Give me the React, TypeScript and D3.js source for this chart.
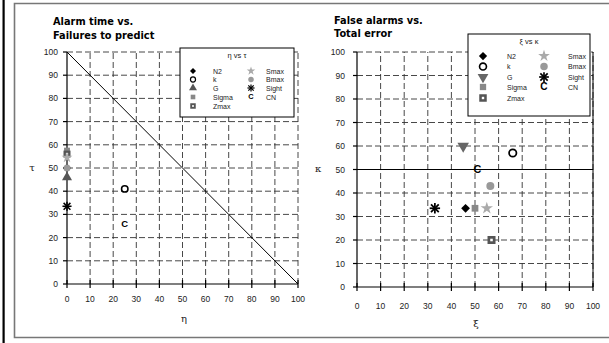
import React from 'react';
import * as d3 from 'd3';

// series order (drawing + legend)
const seriesNames = ['N2', 'k', 'G', 'Sigma', 'Zmax', 'Smax', 'Bmax', 'Sight', 'CN'];
const legendLeft = ['N2', 'k', 'G', 'Sigma', 'Zmax'];
const legendRight = ['Smax', 'Bmax', 'Sight', 'CN'];

// panel 1: eta vs tau
const etaVals = [0, 25, 0, 0, 0, 0, 0, 0, 25];
const tauVals = [50, 41, 46, 57.5, 56, 54.5, 50, 33.5, 26];

// panel 2: xi vs kappa
const xiVals = [46, 66, 45, 50, 57, 55, 56.5, 33, 51];
const kappaVals = [33.5, 57, 60, 33.5, 20, 33.5, 43, 33.5, 50];

const ticks = [0, 10, 20, 30, 40, 50, 60, 70, 80, 90, 100];

const FONT = '"Liberation Sans", Arial, sans-serif';
const TITLE_FONT = '"DejaVu Sans", Verdana, sans-serif';

function Marker({ name, x, y, s, down }: { name: string; x: number; y: number; s: number; down?: boolean }) {
  const sym = (type: any, size: number) => d3.symbol().type(type).size(size)() as string;
  switch (name) {
    case 'N2': {
      const h = s * 0.55;
      return <path d={`M${x},${y - h}L${x + h},${y}L${x},${y + h}L${x - h},${y}Z`} fill="#000" />;
    }
    case 'k':
      return <circle cx={x} cy={y} r={s * 0.46} fill="#fff" stroke="#000" strokeWidth={s * 0.22} />;
    case 'G':
      return (
        <path
          transform={`translate(${x},${y}) rotate(${down ? 180 : 0})`}
          d={sym(d3.symbolTriangle, s * s * 0.9)}
          fill={down ? '#666' : '#555'}
        />
      );
    case 'Sigma':
      return <rect x={x - s * 0.42} y={y - s * 0.42} width={s * 0.84} height={s * 0.84} fill="#888" />;
    case 'Zmax':
      return (
        <g>
          <rect x={x - s * 0.5} y={y - s * 0.5} width={s} height={s} fill="#555" />
          <rect x={x - s * 0.16} y={y - s * 0.16} width={s * 0.32} height={s * 0.32} fill="#fff" />
        </g>
      );
    case 'Smax':
      return <path transform={`translate(${x},${y})`} d={sym(d3.symbolStar, s * s * 0.75)} fill="#aaa" />;
    case 'Bmax':
      return <circle cx={x} cy={y} r={s * 0.5} fill="#999" />;
    case 'Sight': {
      const r = s * 0.65;
      const d = r * 0.75;
      return (
        <g stroke="#000" strokeWidth={s * 0.22}>
          <line x1={x - r} y1={y} x2={x + r} y2={y} />
          <line x1={x} y1={y - r} x2={x} y2={y + r} />
          <line x1={x - d} y1={y - d} x2={x + d} y2={y + d} />
          <line x1={x - d} y1={y + d} x2={x + d} y2={y - d} />
        </g>
      );
    }
    case 'CN':
      return (
        <text x={x} y={y + s * 0.45} textAnchor="middle" fontFamily={FONT} fontWeight="bold" fontSize={s * 1.35} fill="#000">
          C
        </text>
      );
    default:
      return null;
  }
}

type PanelProps = {
  xr: [number, number];
  yr: [number, number];
  xs: number[];
  ys: number[];
  title: string[];
  titleX: number;
  titleY: [number, number];
  legend: { x: number; y: number; w: number; h: number; title: string; rows: number[]; c1: number; l1: number; c2: number; l2: number; ms: number; fs: number };
  xLabel: string;
  yLabel: string;
  xLabelPos: [number, number];
  yLabelPos: [number, number];
  xTickY: number;
  yTickX: number;
  ms: number;
  diag?: boolean;
  right?: boolean;
};

function Panel(p: PanelProps) {
  const x = d3.scaleLinear().domain([0, 100]).range(p.xr);
  const y = d3.scaleLinear().domain([0, 100]).range(p.yr);
  const grid = '#333';
  return (
    <g>
      <text fontFamily={TITLE_FONT} fontWeight="bold" fontSize={9.8} fill="#000">
        <tspan x={p.titleX} y={p.titleY[0]}>{p.title[0]}</tspan>
        <tspan x={p.titleX} y={p.titleY[1]}>{p.title[1]}</tspan>
      </text>
      {/* dashed grid */}
      {ticks.slice(1).map(t => (
        <line key={'h' + t} x1={x(0)} x2={x(100)} y1={y(t)} y2={y(t)} stroke={grid} strokeDasharray="6,3" strokeWidth={0.9} />
      ))}
      {ticks.slice(1).map(t => (
        <line key={'v' + t} x1={x(t)} x2={x(t)} y1={y(0)} y2={y(100)} stroke={grid} strokeDasharray="6,3" strokeWidth={0.9} />
      ))}
      {p.right && (
        <g stroke="#000" strokeWidth={1}>
          <line x1={x(0)} x2={x(100)} y1={y(50)} y2={y(50)} />
          <line x1={x(100)} x2={x(100)} y1={y(0)} y2={y(100)} />
        </g>
      )}
      {/* axes */}
      <line x1={x(0)} x2={x(0)} y1={y(0)} y2={y(100)} stroke="#000" strokeWidth={1.2} />
      <line x1={x(0)} x2={x(100)} y1={y(0)} y2={y(0)} stroke="#000" strokeWidth={1.2} />
      {ticks.map(t => (
        <g key={'t' + t}>
          <line x1={x(t)} x2={x(t)} y1={y(0) - 4} y2={y(0) + 4} stroke="#000" strokeWidth={1.2} />
          <line x1={x(0) - 4} x2={x(0)} y1={y(t)} y2={y(t)} stroke="#000" strokeWidth={1.2} />
          <text x={x(t)} y={p.xTickY} textAnchor="middle" fontFamily={FONT} fontSize={8.5} fill="#222">{t}</text>
          <text x={p.yTickX} y={y(t) + 3} textAnchor="end" fontFamily={FONT} fontSize={8.5} fill="#222">{t}</text>
        </g>
      ))}
      {p.diag && <line x1={x(0)} y1={y(100)} x2={x(100)} y2={y(0)} stroke="#000" strokeWidth={1} />}
      <text x={p.xLabelPos[0]} y={p.xLabelPos[1]} textAnchor="middle" fontFamily="'DejaVu Serif', serif" fontSize={10} fill="#222">{p.xLabel}</text>
      <text x={p.yLabelPos[0]} y={p.yLabelPos[1]} textAnchor="middle" fontFamily="'DejaVu Serif', serif" fontSize={10} fill="#222">{p.yLabel}</text>
      {/* legend */}
      <rect x={p.legend.x} y={p.legend.y} width={p.legend.w} height={p.legend.h} fill="#fff" stroke="#000" strokeWidth={1} />
      <text x={p.legend.x + p.legend.w / 2} y={p.legend.y + 10} textAnchor="middle" fontFamily={FONT} fontSize={7.5} fill="#222">{p.legend.title}</text>
      {legendLeft.map((n, i) => (
        <g key={'ll' + n}>
          <Marker name={n} x={p.legend.c1} y={p.legend.rows[i]} s={p.legend.ms} down={p.right} />
          <text x={p.legend.l1} y={p.legend.rows[i] + 2.5} fontFamily={FONT} fontSize={p.legend.fs} fill="#222">{n}</text>
        </g>
      ))}
      {legendRight.map((n, i) => (
        <g key={'lr' + n}>
          <Marker name={n} x={p.legend.c2} y={p.legend.rows[i]} s={p.legend.ms} down={p.right} />
          <text x={p.legend.l2} y={p.legend.rows[i] + 2.5} fontFamily={FONT} fontSize={p.legend.fs} fill="#222">{n}</text>
        </g>
      ))}
      {/* data */}
      {seriesNames.map((n, i) => (
        <Marker key={'d' + n} name={n} x={x(p.xs[i])} y={y(p.ys[i])} s={p.ms} down={p.right} />
      ))}
    </g>
  );
}

export default function App() {
  return (
    <svg width={609} height={343} style={{ position: 'absolute', left: 0, top: 0, background: '#fff' }}>
      <rect x={0} y={0} width={609} height={343} fill="#fff" />
      <rect x={2.5} y={0} width={2.2} height={343} fill="#000" />
      <path d="M609,3.5 H14.5 V337.5 H609" fill="none" stroke="#777" strokeWidth={1.6} />
      <Panel
        xr={[67, 298]}
        yr={[284, 52]}
        xs={etaVals}
        ys={tauVals}
        title={['Alarm time vs.', 'Failures to predict']}
        titleX={53}
        titleY={[25, 39]}
        legend={{ x: 180, y: 48, w: 114, h: 69, title: 'η vs τ', rows: [71, 79.5, 88, 97, 106], c1: 193, l1: 213, c2: 251, l2: 266, ms: 5.5, fs: 7 }}
        xLabel="η"
        yLabel="τ"
        xLabelPos={[184, 322]}
        yLabelPos={[32, 171]}
        xTickY={302}
        yTickX={58}
        ms={7}
        diag
      />
      <Panel
        xr={[357, 593]}
        yr={[287, 52]}
        xs={xiVals}
        ys={kappaVals}
        title={['False alarms vs.', 'Total error']}
        titleX={334}
        titleY={[23.5, 37]}
        legend={{ x: 468, y: 34, w: 122, h: 82, title: 'ξ vs κ', rows: [56, 66.5, 77, 87, 98], c1: 483, l1: 507, c2: 544, l2: 568, ms: 7.5, fs: 7 }}
        xLabel="ξ"
        yLabel="κ"
        xLabelPos={[476, 327]}
        yLabelPos={[318, 172]}
        xTickY={309}
        yTickX={345}
        ms={8}
        right
      />
    </svg>
  );
}
